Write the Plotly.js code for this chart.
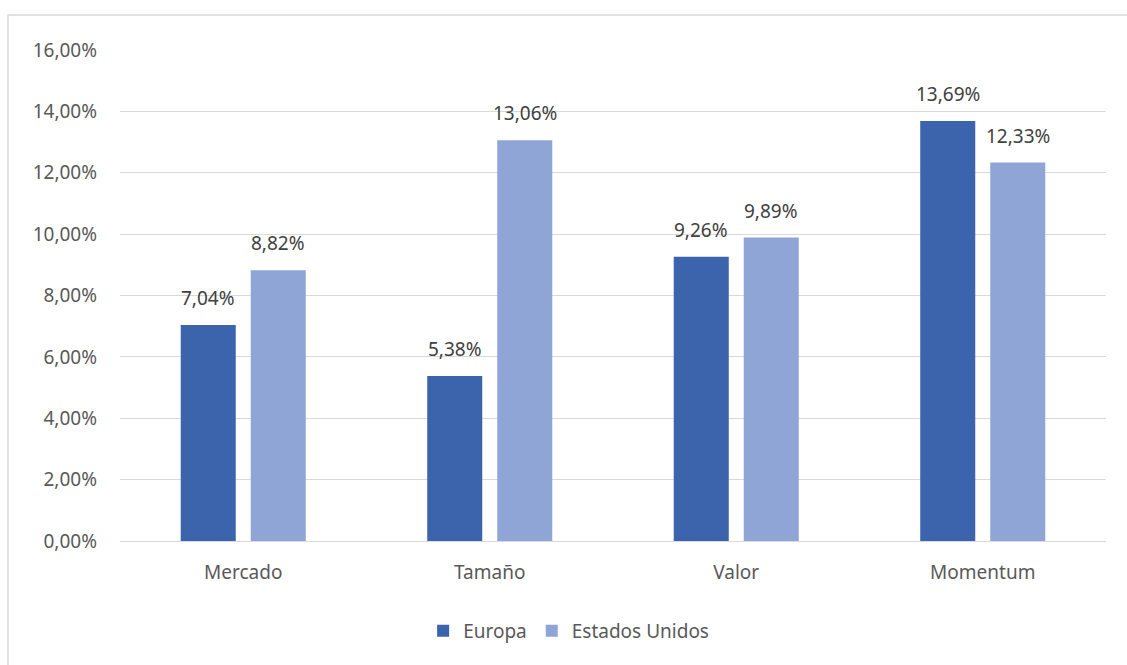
<!DOCTYPE html>
<html><head><meta charset="utf-8">
<script src="https://cdn.plot.ly/plotly-3.0.1.min.js"></script>
<style>html,body{margin:0;padding:0;background:#fff}</style>
</head><body>
<div id="chart" style="width:1127px;height:665px"></div>
<script>
const categories = ["Mercado", "Tamaño", "Valor", "Momentum"];
const europa = [0.0704, 0.0538, 0.0926, 0.1369];
const estadosUnidos = [0.0882, 0.1306, 0.0989, 0.1233];
const seriesNames = ["Europa", "Estados Unidos"];
const tickVals = [0, 0.02, 0.04, 0.06, 0.08, 0.10, 0.12, 0.14, 0.16];

const FONT = "Noto Sans, sans-serif";
const TXT = "#595959";
const FS = 19;

function barTrace(name, y, color) {
  return {
    type: "bar", name: name, x: categories, y: y,
    marker: {color: color}, hoverinfo: "skip"
  };
}

const data = [
  barTrace(seriesNames[0], europa, "#3b64ad"),
  barTrace(seriesNames[1], estadosUnidos, "#8fa5d5")
];

function labelAnnots(y, shift) {
  return categories.map((c, i) => ({
    x: c, y: y[i], xref: "x", yref: "y",
    text: (y[i] * 100).toFixed(2).replace(".", ",") + "%",
    showarrow: false, xshift: shift, yshift: 27, yanchor: "middle",
    font: {family: FONT, size: FS, color: "#404040"}
  }));
}

const layout = {
  width: 1127, height: 665,
  margin: {l: 120, r: 21, t: 50, b: 124},
  paper_bgcolor: "#fff", plot_bgcolor: "#fff",
  separators: ",.",
  font: {family: FONT, size: FS, color: TXT},
  barmode: "group", bargap: 0.432, bargroupgap: 0.214,
  showlegend: true,
  legend: {orientation: "h", x: 0.455, xanchor: "center", y: -0.183, yanchor: "middle",
           font: {family: FONT, size: FS, color: TXT}, itemwidth: 30, traceorder: "normal"},
  xaxis: {showgrid: false, showline: false, ticks: "", ticklabelstandoff: 18,
          tickfont: {size: FS, color: TXT}, fixedrange: true},
  yaxis: {range: [0, 0.16], tickvals: tickVals, tickformat: ".2%", showgrid: true,
          gridcolor: "#d9d9d9", gridwidth: 1, zeroline: true, zerolinecolor: "#d9d9d9", zerolinewidth: 1,
          showline: false, ticks: "", ticklabelstandoff: 22, tickfont: {size: FS, color: TXT}, fixedrange: true},
  annotations: labelAnnots(europa, -35).concat(labelAnnots(estadosUnidos, 35)),
  shapes: [{type: "rect", xref: "paper", yref: "paper",
            x0: -0.1136, x1: 1.2, y0: -0.4, y1: 1.0713,
            line: {color: "#d9d9d9", width: 1.5}, fillcolor: "rgba(0,0,0,0)", layer: "below"}]
};

Plotly.newPlot("chart", data, layout, {displayModeBar: false, staticPlot: true});
</script>
</body></html>
